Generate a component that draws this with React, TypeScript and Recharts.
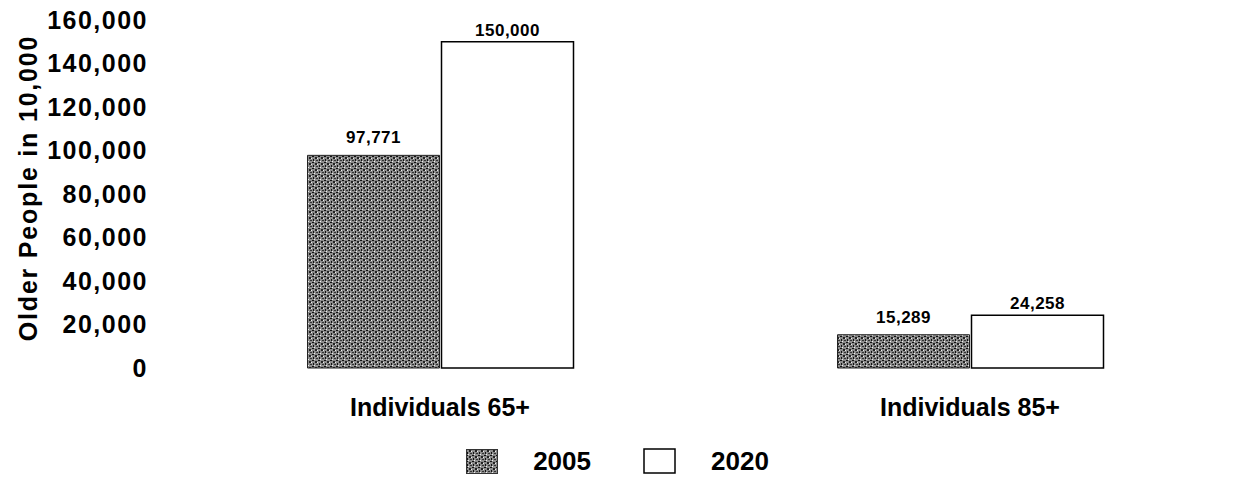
import { BarChart, Bar, XAxis, YAxis, Legend, LabelList, Label } from "recharts";

const categories = ["Individuals 65+", "Individuals 85+"];
const values2005 = [97771, 15289];
const values2020 = [150000, 24258];
const yTicks = [0, 20000, 40000, 60000, 80000, 100000, 120000, 140000, 160000];

const data = categories.map((name, i) => ({
  name,
  y2005: values2005[i],
  y2020: values2020[i],
}));

const FONT = "'Liberation Sans', Arial, sans-serif";
const fmt = (v: number) => v.toLocaleString("en-US");

// speckled fill like the scanned halftone
function Stipple({ id }: { id: string }) {
  return (
    <pattern id={id} width="6" height="6" patternUnits="userSpaceOnUse">
      <rect width="6" height="6" fill="#8c8c8c" />
      <rect x="0" y="0" width="2" height="1" fill="#111" />
      <rect x="3" y="1" width="2" height="2" fill="#222" />
      <rect x="1" y="3" width="1" height="2" fill="#111" />
      <rect x="4" y="4" width="2" height="1" fill="#333" />
      <rect x="2" y="5" width="1" height="1" fill="#eee" />
      <rect x="5" y="2" width="1" height="1" fill="#eee" />
    </pattern>
  );
}

function LegendBox() {
  return (
    <div
      style={{
        display: "flex",
        alignItems: "center",
        justifyContent: "center",
        height: 60,
        fontFamily: FONT,
        fontWeight: "bold",
        fontSize: 26,
        color: "#000",
      }}
    >
      <svg width={32} height={25} style={{ marginRight: 35 }}>
        <defs>
          <Stipple id="stippleLegend" />
        </defs>
        <rect x={0.5} y={0.5} width={31} height={24} fill="url(#stippleLegend)" stroke="#333" />
      </svg>
      <span style={{ marginRight: 52 }}>2005</span>
      <svg width={33} height={26} style={{ marginRight: 35 }}>
        <rect x={1} y={1} width={31} height={24} fill="#fff" stroke="#000" strokeWidth={1.5} />
      </svg>
      <span>2020</span>
    </div>
  );
}

export default function App() {
  return (
    <div style={{ position: "absolute", left: 0, top: 0, background: "#fff" }}>
      <BarChart
        width={1235}
        height={491}
        data={data}
        margin={{ top: 20, right: 0, left: 0, bottom: 0 }}
        barCategoryGap="25%"
        barGap={2}
      >
        <defs>
          <Stipple id="stipple" />
        </defs>
        <XAxis
          dataKey="name"
          axisLine={false}
          tickLine={false}
          height={63}
          tickMargin={24}
          tick={{ fill: "#000", fontSize: 25, fontWeight: "bold", fontFamily: FONT }}
        />
        <YAxis
          width={175}
          domain={[0, 160000]}
          ticks={yTicks}
          interval={0}
          axisLine={false}
          tickLine={false}
          tickMargin={21}
          tickFormatter={fmt}
          tick={{ fill: "#000", fontSize: 25, fontWeight: "bold", fontFamily: FONT, letterSpacing: 1.5 }}
        >
          <Label
            content={(props: any) => {
              const vb = props.viewBox || { y: 20, height: 348 };
              const cy = vb.y + vb.height / 2 - 6;
              return (
                <text
                  x={28}
                  y={cy}
                  transform={`rotate(-90 28 ${cy})`}
                  textAnchor="middle"
                  dominantBaseline="central"
                  fontFamily={FONT}
                  fontWeight="bold"
                  fontSize={25}
                  letterSpacing={1.8}
                  fill="#000"
                >
                  Older People in 10,000
                </text>
              );
            }}
          />
        </YAxis>
        <Legend verticalAlign="bottom" height={60} content={() => <LegendBox />} />
        <Bar dataKey="y2005" fill="url(#stipple)" stroke="#222" strokeWidth={1} isAnimationActive={false}>
          <LabelList
            dataKey="y2005"
            position="top"
            offset={12}
            formatter={(v: any) => fmt(Number(v))}
            style={{ fill: "#000", fontSize: 17, fontWeight: "bold", fontFamily: FONT, letterSpacing: 0.5 }}
          />
        </Bar>
        <Bar dataKey="y2020" fill="#fff" stroke="#000" strokeWidth={1.5} isAnimationActive={false}>
          <LabelList
            dataKey="y2020"
            position="top"
            offset={6}
            formatter={(v: any) => fmt(Number(v))}
            style={{ fill: "#000", fontSize: 17, fontWeight: "bold", fontFamily: FONT, letterSpacing: 0.5 }}
          />
        </Bar>
      </BarChart>
    </div>
  );
}
